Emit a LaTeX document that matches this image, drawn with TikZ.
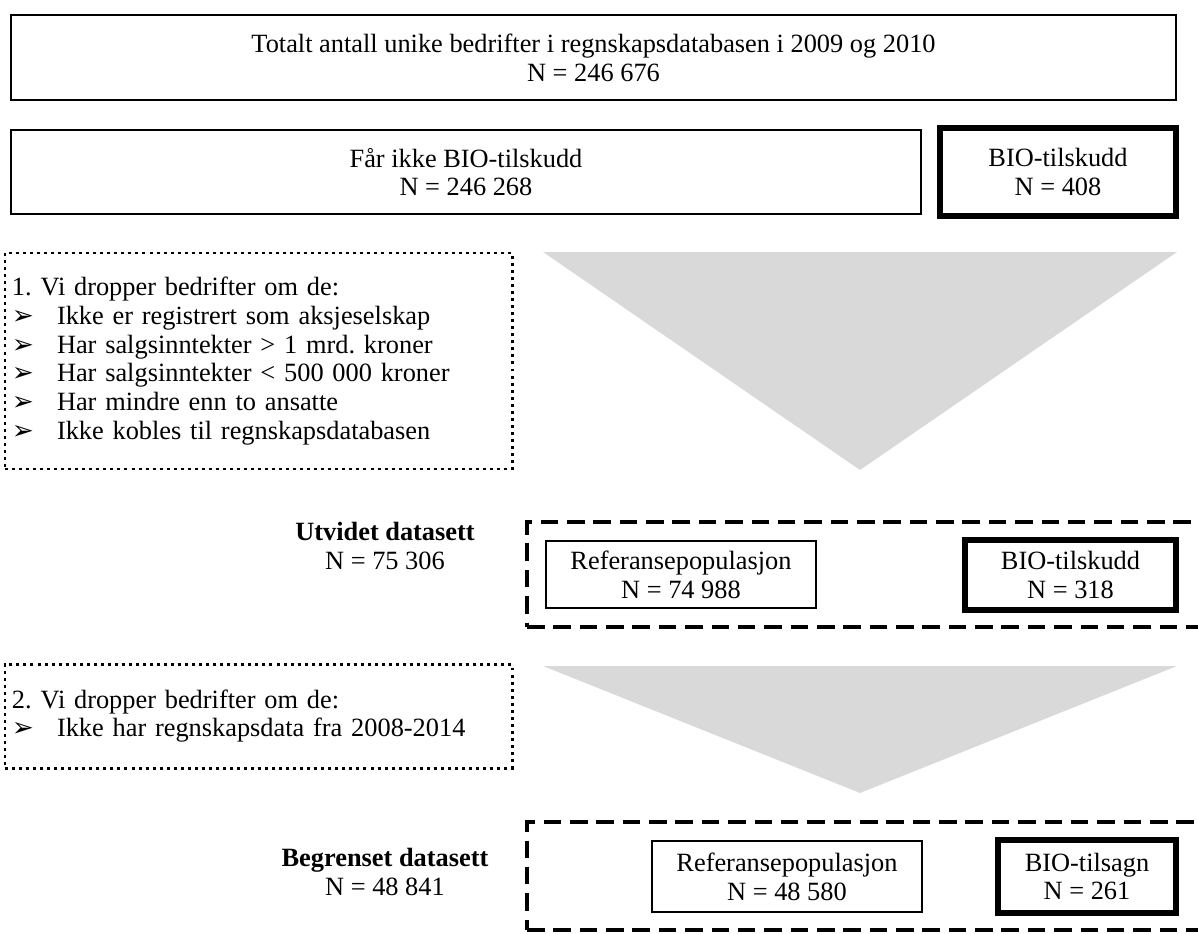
\documentclass[tikz,border=0pt]{standalone}
\usepackage{fontspec}
\setmainfont{Liberation Serif}
\newfontfamily\pilfont{DejaVu Sans}
\newcommand{\pil}{\makebox[0.9cm][l]{\pilfont\fontsize{15}{15}\selectfont ➢}}

\begin{document}
\frenchspacing
\begin{tikzpicture}[
  font={\fontsize{15}{16.4}\selectfont},
  box/.style     ={draw, line width=1.4pt, align=center, inner sep=2pt},
  biobox/.style  ={box, line width=3.4pt},
  dropbox/.style ={draw, line width=1.7pt, dash pattern=on 1.7pt off 2.3pt,
                   align=left, inner xsep=0.14cm, text width=9.86cm},
  groupbox/.style={draw, line width=2.3pt, dash pattern=on 10pt off 5pt},
  setlabel/.style={align=center},
  funnel/.style  ={fill=black!15},
]
\useasboundingbox (0,0) rectangle (23.96,-18.68);
\clip (0,0) rectangle (23.96,-18.68);

% ---------------- all firms ------------------------------------------------
\node[box, minimum width=23.3cm, minimum height=1.7cm] (alle) at (11.87,-1.15)
  {Totalt antall unike bedrifter i regnskapsdatabasen i 2009 og 2010\\N = 246 676};

\node[box, minimum width=18.2cm, minimum height=1.68cm] (ikkebio) at (9.32,-3.44)
  {Får ikke BIO-tilskudd\\N = 246 268};
\node[biobox, minimum width=4.72cm, minimum height=1.76cm] (bio) at (21.16,-3.44)
  {BIO-tilskudd\\N = 408};

% ---------------- first filter ---------------------------------------------
\node[dropbox, minimum height=4.32cm] (drop1) at (5.17,-7.22)
  {1. Vi dropper bedrifter om de:\\
   \pil Ikke er registrert som aksjeselskap\\
   \pil Har salgsinntekter > 1 mrd. kroner\\
   \pil Har salgsinntekter < 500 000 kroner\\
   \pil Har mindre enn to ansatte\\
   \pil Ikke kobles til regnskapsdatabasen};
\fill[funnel] (10.86,-5.04) -- (23.54,-5.04) -- (17.2,-9.4) -- cycle;

% ---------------- extended data set ----------------------------------------
\node[setlabel] (utvidet) at (7.7,-10.92)
  {\textbf{Utvidet datasett}\\N = 75 306};
\node[groupbox, minimum width=13.76cm, minimum height=2.1cm] (grp1) at (17.42,-11.49) {};
\node[box, minimum width=5.4cm, minimum height=1.34cm] (ref1) at (13.62,-11.49)
  {Referansepopulasjon\\N = 74 988};
\node[biobox, minimum width=4.22cm, minimum height=1.4cm] (bio1) at (21.41,-11.5)
  {BIO-tilskudd\\N = 318};

% ---------------- second filter --------------------------------------------
\node[dropbox, minimum height=2.08cm] (drop2) at (5.17,-14.32)
  {2. Vi dropper bedrifter om de:\\
   \pil Ikke har regnskapsdata fra 2008-2014};
\fill[funnel] (10.86,-13.32) -- (23.54,-13.32) -- (17.2,-15.86) -- cycle;

% ---------------- restricted data set --------------------------------------
\node[setlabel] (begrenset) at (7.7,-17.44)
  {\textbf{Begrenset datasett}\\N = 48 841};
\node[groupbox, minimum width=13.76cm, minimum height=2.16cm] (grp2) at (17.42,-17.52) {};
\node[box, minimum width=5.4cm, minimum height=1.42cm] (ref2) at (15.74,-17.53)
  {Referansepopulasjon\\N = 48 580};
\node[biobox, minimum width=3.56cm, minimum height=1.46cm] (bio2) at (21.74,-17.53)
  {BIO-tilsagn\\N = 261};

\end{tikzpicture}
\end{document}
